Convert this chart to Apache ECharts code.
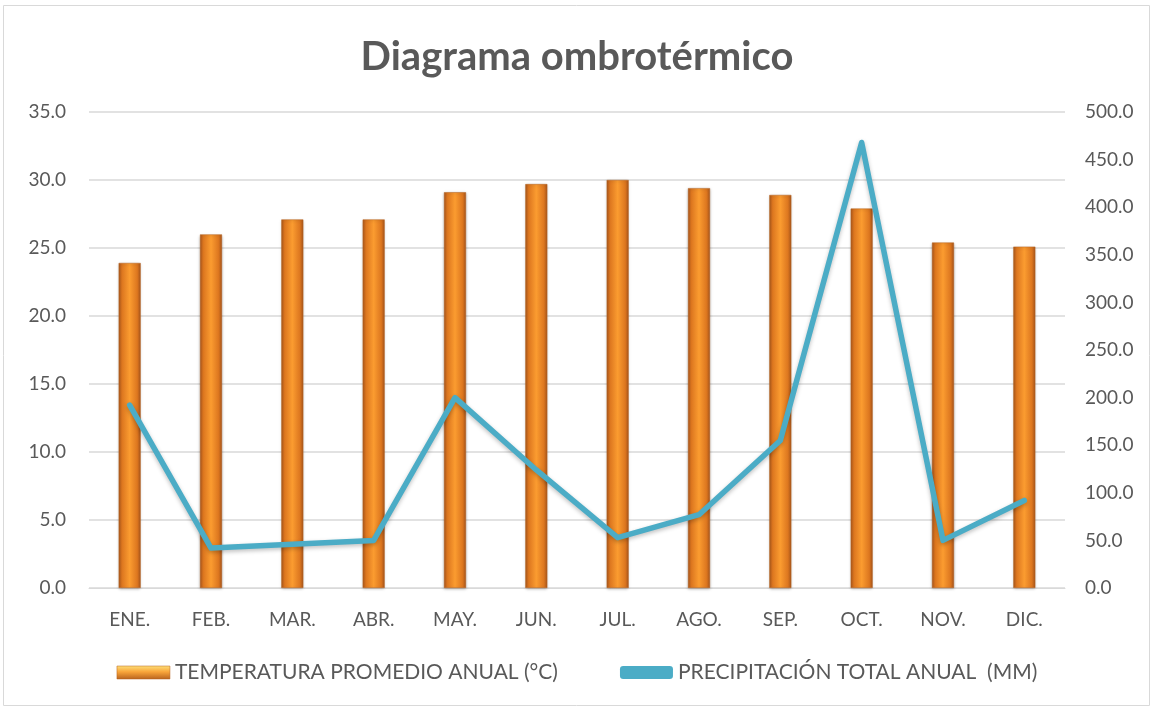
<!DOCTYPE html>
<html><head><meta charset="utf-8">
<script src="https://cdn.jsdelivr.net/npm/echarts@6/dist/echarts.min.js"></script>
<style>html,body{margin:0;padding:0;background:#fff}#c{width:1154px;height:712px}</style>
</head><body><div id="c"></div>
<script>
const categories = ['ENE.','FEB.','MAR.','ABR.','MAY.','JUN.','JUL.','AGO.','SEP.','OCT.','NOV.','DIC.'];
const temperatura = [23.9, 26.0, 27.1, 27.1, 29.1, 29.7, 30.0, 29.4, 28.9, 27.9, 25.4, 25.1];
const precipitacion = [192, 42, 46, 50, 200, 124, 53, 77, 155, 468, 50, 92];
const tempName = 'TEMPERATURA PROMEDIO ANUAL (°C)';
const precName = 'PRECIPITACIÓN TOTAL ANUAL  (MM)';

const font = 'Lato, "Open Sans", sans-serif';
const chart = echarts.init(document.getElementById('c'));
const barGrad = new echarts.graphic.LinearGradient(0,0,1,0,[
  {offset:0,color:'#a9561c'},{offset:0.15,color:'#dc761f'},{offset:0.5,color:'#fb9c30'},
  {offset:0.85,color:'#dc761f'},{offset:1,color:'#a9561c'}]);
const legGrad = new echarts.graphic.LinearGradient(0,0,0,1,[
  {offset:0,color:'#fde07a'},{offset:0.45,color:'#f9a53a'},{offset:1,color:'#b8631e'}]);
chart.setOption({
  animation:false,
  graphic:[{type:'rect',shape:{x:3.5,y:5.5,width:1146,height:700},style:{fill:'none',stroke:'#d9d9d9',lineWidth:1},z:-10}],
  title:{text:'Diagrama ombrotérmico',left:'center',top:32,textStyle:{fontFamily:font,fontSize:40,fontWeight:'bold',color:'#595959'}},
  grid:{left:89,right:89,top:112,bottom:124},
  legend:{bottom:24,left:'center',itemGap:62,itemWidth:53,itemHeight:13,
    textStyle:{fontFamily:font,fontSize:21,color:'#595959'},
    data:[{name:tempName,icon:'rect',itemStyle:{color:legGrad,borderColor:'#b7621f',borderWidth:0.5}},{name:precName,icon:'roundRect'}]},
  xAxis:{type:'category',data:categories,
    axisLine:{lineStyle:{color:'#d9d9d9',width:1}},axisTick:{show:false},
    axisLabel:{fontFamily:font,fontSize:19,color:'#595959',margin:22}},
  yAxis:[
    {type:'value',min:0,max:35,interval:5,
     axisLabel:{formatter:v=>v.toFixed(1),fontFamily:font,fontSize:19,color:'#595959',margin:23},
     splitLine:{lineStyle:{color:'#d9d9d9',width:1.5}},axisLine:{show:false},axisTick:{show:false}},
    {type:'value',min:0,max:500,interval:50,position:'right',
     axisLabel:{formatter:v=>v.toFixed(1),fontFamily:font,fontSize:19,color:'#595959',margin:20},
     splitLine:{show:false},axisLine:{show:false},axisTick:{show:false}}
  ],
  series:[
    {name:tempName,type:'bar',data:temperatura,barWidth:22,yAxisIndex:0,
     itemStyle:{color:barGrad,borderColor:'#b7621f',borderWidth:0.5,shadowColor:'rgba(0,0,0,0.25)',shadowBlur:3,shadowOffsetY:1}},
    {name:precName,type:'line',data:precipitacion,yAxisIndex:1,symbol:'none',
     lineStyle:{color:'#4bacc6',width:5.5,cap:'round',join:'round',shadowColor:'rgba(0,0,0,0.25)',shadowBlur:4,shadowOffsetY:2},
     itemStyle:{color:'#4bacc6'},z:5}
  ]
});
</script></body></html>
